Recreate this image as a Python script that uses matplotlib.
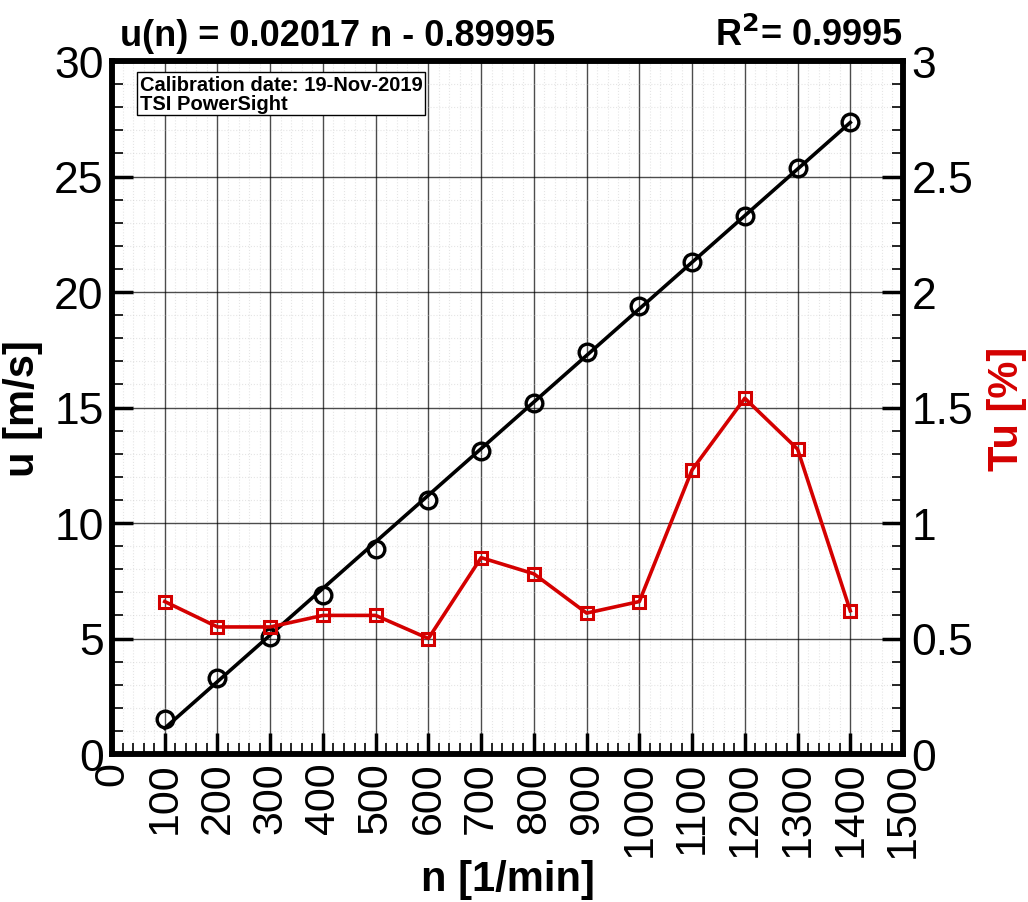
import matplotlib
matplotlib.use("Agg")
import matplotlib.pyplot as plt
from matplotlib.ticker import MultipleLocator

plt.rcParams['font.family'] = ['Liberation Sans', 'DejaVu Sans']

# data
n = [100, 200, 300, 400, 500, 600, 700, 800, 900, 1000, 1100, 1200, 1300, 1400]
u = [1.52, 3.29, 5.06, 6.88, 8.87, 11.0, 13.1, 15.2, 17.4, 19.4, 21.3, 23.3, 25.35, 27.36]
tu = [0.66, 0.55, 0.55, 0.60, 0.60, 0.50, 0.85, 0.78, 0.61, 0.66, 1.23, 1.54, 1.32, 0.62]
slope = 0.02017
intercept = -0.89995
r2 = 0.9995
red = '#d40000'

fig = plt.figure(figsize=(10.28, 9.03), dpi=100)
ax = fig.add_axes([112/1028, 1 - 755/903, 791/1028, 693/903])
ax2 = ax.twinx()

# fit line through the end points
fit_x = [n[0], n[-1]]
fit_y = [slope * x + intercept for x in fit_x]
ax.plot(fit_x, fit_y, color='black', lw=2.6, zorder=3)
ax.plot(n, u, 'o', mfc='none', mec='black', ms=12, mew=2.4, zorder=4)

ax2.plot(n, tu, '-s', color=red, mfc='none', mec=red, ms=8.5, mew=2.2, lw=2.6)

ax.set_xlim(0, 1500)
ax.set_ylim(0, 30)
ax2.set_ylim(0, 3)

ax.xaxis.set_major_locator(MultipleLocator(100))
ax.xaxis.set_minor_locator(MultipleLocator(20))
ax.yaxis.set_major_locator(MultipleLocator(5))
ax.yaxis.set_minor_locator(MultipleLocator(1))
ax2.set_yticks([0, 0.5, 1, 1.5, 2, 2.5, 3])
ax2.set_yticklabels(['0', '0.5', '1', '1.5', '2', '2.5', '3'])
ax2.yaxis.set_minor_locator(MultipleLocator(0.1))

ax.grid(which='major', color='black', lw=1.0, alpha=0.7)
ax.grid(which='minor', color='#cccccc', lw=0.8, ls=':', alpha=0.5)

for a in (ax, ax2):
    a.tick_params(which='major', direction='in', length=15, width=2.5, labelsize=32, pad=6)
    a.tick_params(which='minor', direction='in', length=8, width=1.2)
    for s in a.spines.values():
        s.set_linewidth(4)
ax.tick_params(axis='x', labelrotation=90, top=False, labelsize=31, pad=5)
ax.tick_params(axis='y', right=False)

ax.set_xlabel('n [1/min]', fontsize=30, fontweight='bold')
ax.xaxis.set_label_coords(0.5, -0.152)
ax.set_ylabel('u [m/s]', fontsize=30, fontweight='bold', labelpad=8)
ax2.set_ylabel('Tu [%]', fontsize=30, fontweight='bold', color=red, labelpad=10)

ax.text(0.01, 1.012, 'u(n) = %.5f n - %.5f' % (slope, -intercept), transform=ax.transAxes,
        fontsize=26, fontweight='bold', ha='left', va='bottom')
ax.text(1.0, 1.012, r'R$^\mathbf{2}$= %.4f' % r2, transform=ax.transAxes,
        fontsize=26, fontweight='bold', ha='right', va='bottom')

ax.text(0.035, 0.98, 'Calibration date: 19-Nov-2019\nTSI PowerSight', transform=ax.transAxes,
        fontsize=14.5, fontweight='bold', ha='left', va='top', linespacing=1.0,
        bbox=dict(boxstyle='square,pad=0.12', fc='white', ec='black', lw=1))

fig.savefig('out.png', dpi=100)
